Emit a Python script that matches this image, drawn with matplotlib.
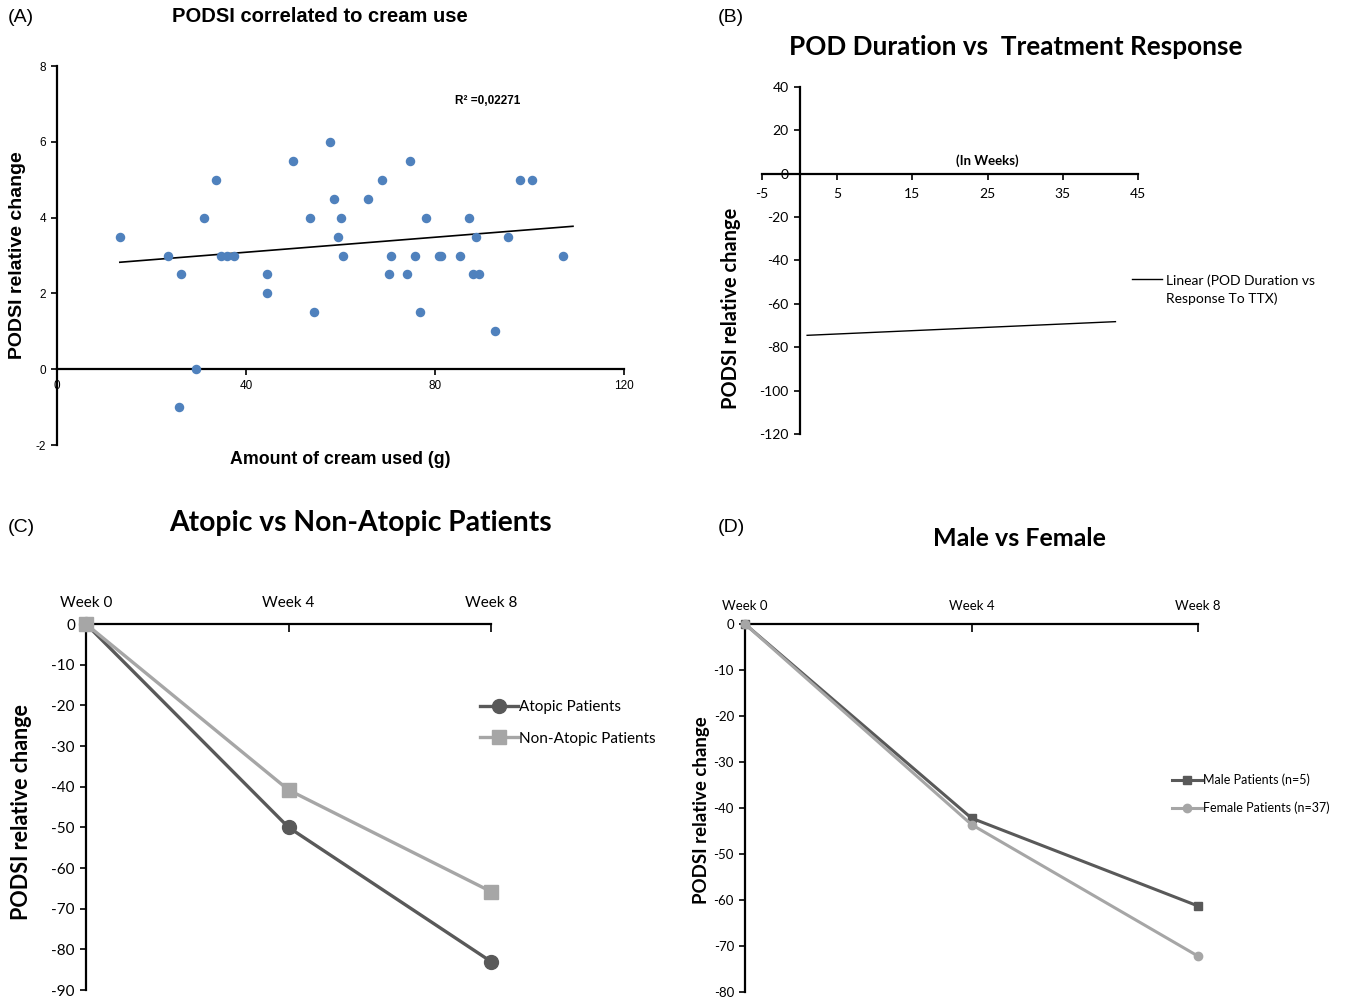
import numpy as np
import matplotlib.pyplot as plt
from matplotlib.lines import Line2D

plt.rcParams['axes.unicode_minus'] = False

# (A) cream used (g) vs PODSI relative change
cream_g = [13.3, 23.5, 26.2, 25.8, 29.4, 31.1, 33.6, 34.7, 36.0, 37.5,
           44.4, 44.4, 49.9, 53.5, 54.4, 57.8, 58.6, 59.5, 60.1, 60.5,
           65.8, 68.8, 70.3, 70.7, 74.1, 74.7, 75.8, 76.8, 78.1, 80.8,
           81.3, 85.3, 87.2, 88.0, 88.7, 89.3, 92.7, 95.4, 98.0, 100.5, 107.1]
podsi_change = [3.5, 3, 2.5, -1, 0, 4, 5, 3, 3, 3,
                2, 2.5, 5.5, 4, 1.5, 6, 4.5, 3.5, 4, 3,
                4.5, 5, 2.5, 3, 2.5, 5.5, 3, 1.5, 4, 3,
                3, 3, 4, 2.5, 3.5, 2.5, 1, 3.5, 5, 5, 3]
# linear trend as drawn in the figure
trend_slope = 0.0099
trend_intercept = 2.69
trend_x = [13.3, 109.2]
r2_text = "R² =0,02271"

# (B) linear trend only
duration_weeks = [1, 42]
duration_trend = [-74.5, -68.2]

# (C) and (D)
weeks = ['Week 0', 'Week 4', 'Week 8']
atopic = [0, -50.0, -83.0]
non_atopic = [0, -40.8, -65.8]
male = [0, -42.2, -61.3]
female = [0, -43.6, -72.2]

dark = '#595959'
light = '#a6a6a6'
narrow = ['Liberation Sans Narrow', 'Liberation Sans', 'DejaVu Sans']
arial = ['Liberation Sans', 'DejaVu Sans']
cal = ['Lato', 'DejaVu Sans']

W, H = 1352, 999
fig = plt.figure(figsize=(W / 100, H / 100), dpi=100)


def box(l, t, r, b):
    return [l / W, 1 - b / H, (r - l) / W, (b - t) / H]


# ---------- (A) ----------
ax = fig.add_axes(box(57, 66, 624, 445))
ax.scatter(cream_g, podsi_change, s=34, color='#4f81bd', zorder=3, clip_on=False)
xs = np.array(trend_x)
ax.plot(xs, trend_slope * xs + trend_intercept, color='black', lw=1.2)
ax.set_xlim(0, 120)
ax.set_ylim(-2, 8)
for s in ['top', 'right']:
    ax.spines[s].set_visible(False)
ax.spines['bottom'].set_position(('data', 0))
for s in ['left', 'bottom']:
    ax.spines[s].set_linewidth(1.6)
ax.set_xticks([0, 40, 80, 120])
ax.set_yticks([-2, 0, 2, 4, 6, 8])
ax.tick_params(direction='out', length=4, width=1.2, labelsize=8.5, pad=4)
for lab in ax.get_xticklabels() + ax.get_yticklabels():
    lab.set_family(narrow)
ax.text(84.2, 7.07, r2_text, fontsize=8.5, fontweight='bold', family=narrow,
        va='center', ha='left')
fig.text(320 / W, 1 - 16 / H, 'PODSI correlated to cream use', ha='center', va='center',
         fontsize=14.5, fontweight='bold', family=arial)
fig.text(340 / W, 1 - 459 / H, 'Amount of cream used (g)', ha='center', va='center',
         fontsize=12.8, fontweight='bold', family=arial)
fig.text(18 / W, 1 - 255 / H, 'PODSI relative change', ha='center', va='center',
         rotation=90, fontsize=14, fontweight='bold', family=arial)
fig.text(8 / W, 1 - 17 / H, '(A)', ha='left', va='center', fontsize=14, family=arial)

# ---------- (B) ----------
ax = fig.add_axes(box(762, 87, 1138, 434))
ax.plot(duration_weeks, duration_trend, color='black', lw=1.0)
ax.set_xlim(-5, 45)
ax.set_ylim(-120, 40)
for s in ['top', 'right']:
    ax.spines[s].set_visible(False)
ax.spines['left'].set_position(('data', 0))
ax.spines['bottom'].set_position(('data', 0))
for s in ['left', 'bottom']:
    ax.spines[s].set_linewidth(1.6)
ax.set_xticks([-5, 5, 15, 25, 35, 45])
ax.set_yticks(range(-120, 41, 20))
ax.tick_params(axis='x', direction='out', length=4, width=1.2, labelsize=10, pad=6)
ax.tick_params(axis='y', direction='out', length=4, width=1.2, labelsize=10, pad=4)
for lab in ax.get_xticklabels() + ax.get_yticklabels():
    lab.set_family(cal)
ax.text(25, 6, '(In Weeks)', ha='center', va='center', fontsize=9.5,
        fontweight='bold', family=cal)
fig.add_artist(Line2D([1132 / W, 1162 / W], [1 - 279 / H, 1 - 279 / H], color='black', lw=1.0))
fig.text(1166 / W, 1 - 289.5 / H, 'Linear (POD Duration vs\nResponse To TTX)', ha='left',
         va='center', fontsize=10, family=cal, linespacing=1.55)
fig.text(1016 / W, 1 - 47 / H, 'POD Duration vs  Treatment Response', ha='center',
         va='center', fontsize=18.8, fontweight='bold', family=cal)
fig.text(731 / W, 1 - 308 / H, 'PODSI relative change', ha='center', va='center',
         rotation=90, fontsize=14.4, fontweight='bold', family=cal)
fig.text(718 / W, 1 - 17 / H, '(B)', ha='left', va='center', fontsize=14, family=arial)


# ---------- (C) and (D) ----------
def week_panel(rect, s1, s2, lab1, lab2, m1, m2, ms, lw, ylo, tsize, xpad, lsize,
               leg_anchor, hlen, lspace, title, tsz, tx, ty, ylab_x, ylab_y, ylab_size):
    ax = fig.add_axes(box(*rect))
    x = np.arange(len(weeks))
    ax.plot(x, s1, color=dark, lw=lw, marker=m1, ms=ms, label=lab1, clip_on=False, zorder=3)
    ax.plot(x, s2, color=light, lw=lw, marker=m2, ms=ms, label=lab2, clip_on=False, zorder=3)
    ax.set_xlim(0, len(weeks) - 1)
    ax.set_ylim(ylo, 0)
    ax.set_xticks(x)
    ax.set_xticklabels(weeks)
    ax.xaxis.tick_top()
    ax.spines['bottom'].set_visible(False)
    ax.spines['right'].set_visible(False)
    for s in ['left', 'top']:
        ax.spines[s].set_linewidth(1.6)
    ax.set_yticks(range(ylo, 1, 10))
    ax.tick_params(axis='x', direction='in', length=6, width=1.2, labelsize=tsize, pad=xpad)
    ax.tick_params(axis='y', direction='out', length=4, width=1.2, labelsize=tsize, pad=4)
    for lab in ax.get_xticklabels() + ax.get_yticklabels():
        lab.set_family(cal)
    ax.legend(loc='upper left', bbox_to_anchor=leg_anchor, frameon=False,
              prop={'family': cal, 'size': lsize}, handlelength=hlen,
              handletextpad=0.05, labelspacing=lspace, borderaxespad=0, borderpad=0)
    fig.text(tx / W, 1 - ty / H, title, ha='center', va='center', fontsize=tsz,
             fontweight='bold', family=cal)
    fig.text(ylab_x / W, 1 - ylab_y / H, 'PODSI relative change', ha='center', va='center',
             rotation=90, fontsize=ylab_size, fontweight='bold', family=cal)
    return ax


week_panel((86, 624, 491, 990), atopic, non_atopic, 'Atopic Patients', 'Non-Atopic Patients',
           'o', 's', 10, 2.4, -90, 11, 10, 11, (0.973, 0.792), 2.5, 1.15,
           'Atopic vs Non-Atopic Patients', 20.3, 360, 523, 22, 812, 15.5)
fig.text(8 / W, 1 - 528 / H, '(C)', ha='left', va='center', fontsize=14, family=arial)

week_panel((745, 624, 1198, 992), male, female, 'Male Patients (n=5)', 'Female Patients (n=37)',
           's', 'o', 6, 2.2, -80, 9.5, 9, 9, (0.943, 0.593), 2.4, 1.25,
           'Male vs Female', 18, 1019, 539, 701, 810, 13.4)
fig.text(718 / W, 1 - 528 / H, '(D)', ha='left', va='center', fontsize=14, family=arial)

fig.savefig('out.png', dpi=100)
